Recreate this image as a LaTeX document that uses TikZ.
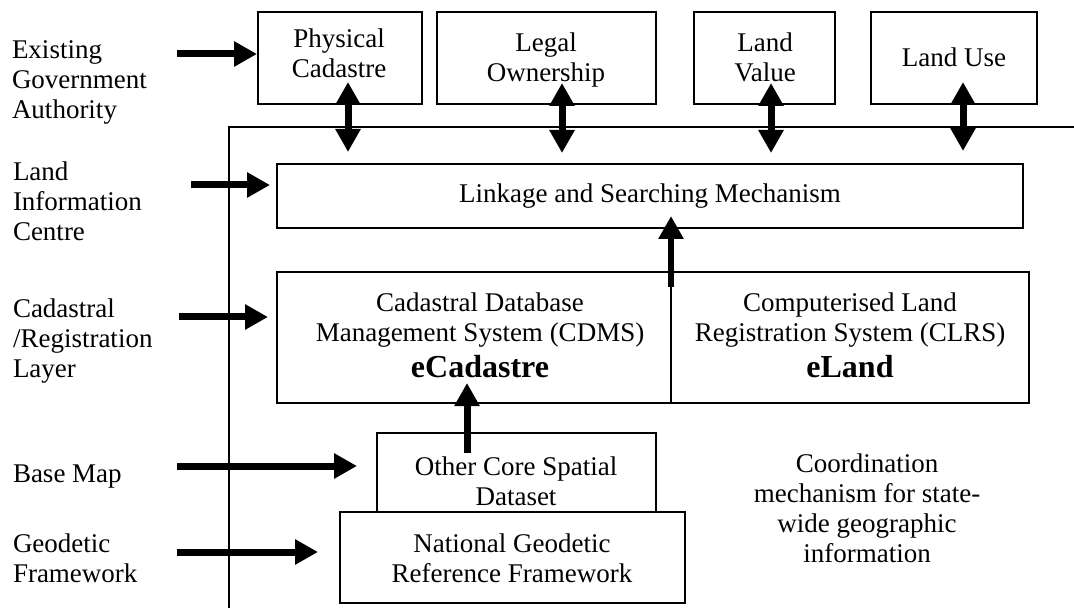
\documentclass[tikz,border=0pt]{standalone}
\usepackage{fontspec}
\setmainfont{Liberation Serif}
\usetikzlibrary{arrows.meta}
\begin{document}
\begin{tikzpicture}[x=0.5pt,y=-0.5pt,
  every node/.style={font=\fontsize{13.5}{15}\selectfont, inner sep=0pt, outer sep=0pt},
  box/.style={draw, line width=1pt, fill=white},
  lbl/.style={anchor=base west, align=left},
  txt/.style={anchor=base, align=center},
  fat/.style={line width=3.5pt, -{Triangle[width=12pt,length=11.5pt]}},
  fatboth/.style={line width=3.5pt, {Triangle[width=12pt,length=11.5pt]}-{Triangle[width=12pt,length=11.5pt]}},
  frame/.style={line width=0.8pt},
]
\useasboundingbox (0,0) rectangle (1074,608);
\fill[white] (0,0) rectangle (1074,608);

% frame
\coordinate (fb) at (229,608);
\coordinate (fc) at (229,127);
\coordinate (fr) at (1074,127);
\draw[frame] (fb) -- (fc) -- (fr);

% left labels (anchor = baseline of last line)
\node[lbl] (l1) at (12,119) {Existing\\Government\\Authority};
\node[lbl] (l2) at (13,241) {Land\\Information\\Centre};
\node[lbl] (l3) at (13,378) {Cadastral\\/Registration\\Layer};
\node[lbl] (l4) at (13,482) {Base Map};
\node[lbl] (l5) at (13,582) {Geodetic\\Framework};

% top boxes
\node[box, minimum width=82pt, minimum height=46pt] (phys) at (340,58) {};
\node[box, minimum width=109.5pt, minimum height=46pt] (legal) at (546.5,58) {};
\node[box, minimum width=70.5pt, minimum height=46pt] (value) at (764.5,58) {};
\node[box, minimum width=83pt, minimum height=46pt] (use) at (954,58) {};
\node[txt] (physT) at (339,78) {Physical\\Cadastre};
\node[txt] (legalT) at (546,82) {Legal\\Ownership};
\node[txt] (valueT) at (765,82) {Land\\Value};
\node[txt] (useT) at (954,67) {Land Use};

% linkage
\node[box, minimum width=373pt, minimum height=32pt] (link) at (650,196) {};
\node[txt] (linkT) at (650,203) {Linkage and Searching Mechanism};

% CDMS / CLRS
\node[box, minimum width=197pt, minimum height=65.5pt] (cdms) at (474,337.5) {};
\node[box, minimum width=179pt, minimum height=65.5pt] (clrs) at (850,337.5) {};
\node[txt] (cdmsT) at (480,378) {Cadastral Database\\Management System (CDMS)\\[3pt]{\fontsize{16}{18}\selectfont\bfseries eCadastre}};
\node[txt] (clrsT) at (850,378) {Computerised Land\\Registration System (CLRS)\\[3pt]{\fontsize{16}{18}\selectfont\bfseries eLand}};

% other core & NGRF
\node[box, minimum width=139.5pt, minimum height=39.5pt] (other) at (516.5,472.5) {};
\node[txt] (otherT) at (516,505) {Other Core Spatial\\Dataset};
\node[box, minimum width=172.5pt, minimum height=45.5pt] (ngrf) at (512.5,557.5) {};
\node[txt] (ngrfT) at (512,582) {National Geodetic\\Reference Framework};

% coordination text
\node[txt] (coord) at (867,562) {Coordination\\mechanism for state-\\wide geographic\\information};

% left arrows
\coordinate (a1s) at (177,54); \coordinate (a1e) at (257,54);
\coordinate (a2s) at (191,185); \coordinate (a2e) at (270,185);
\coordinate (a3s) at (179,317); \coordinate (a3e) at (268,317);
\coordinate (a4s) at (177,466); \coordinate (a4e) at (357,466);
\coordinate (a5s) at (177,552); \coordinate (a5e) at (318,552);
\draw[fat] (a1s) -- (a1e);
\draw[fat] (a2s) -- (a2e);
\draw[fat] (a3s) -- (a3e);
\draw[fat] (a4s) -- (a4e);
\draw[fat] (a5s) -- (a5e);

% double arrows
\coordinate (d1t) at (348,82);  \coordinate (d1b) at (348,152);
\coordinate (d2t) at (562,83);  \coordinate (d2b) at (562,153);
\coordinate (d3t) at (771,83);  \coordinate (d3b) at (771,153);
\coordinate (d4t) at (963,82);  \coordinate (d4b) at (963,151);
\draw[fatboth] (d1t) -- (d1b);
\draw[fatboth] (d2t) -- (d2b);
\draw[fatboth] (d3t) -- (d3b);
\draw[fatboth] (d4t) -- (d4b);

% up arrows
\coordinate (u1s) at (671,287); \coordinate (u1e) at (671,216);
\coordinate (u2s) at (467,453); \coordinate (u2e) at (467,383);
\draw[fat, line width=3pt] (u1s) -- (u1e);
\draw[fat] (u2s) -- (u2e);
\end{tikzpicture}
\end{document}
